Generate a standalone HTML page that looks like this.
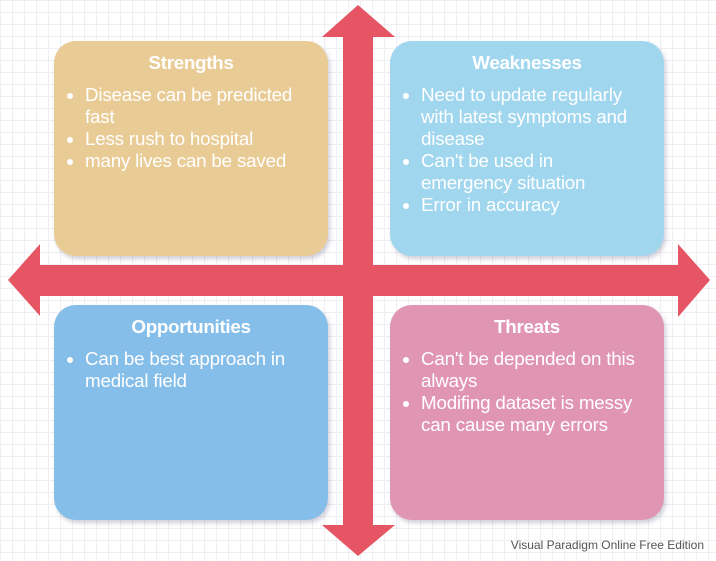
<!DOCTYPE html>
<html><head><style>
body{margin:0;width:716px;height:561px;overflow:hidden;background:#fff;
background-image:linear-gradient(#eeeef3 1px,transparent 1px),linear-gradient(90deg,#eeeef3 1px,transparent 1px);background-size:12px 12px;font-family:"Liberation Sans",sans-serif;position:relative}
.b{position:absolute;width:274px;height:215px;border-radius:22px;color:#fff;box-shadow:2px 3px 4px rgba(120,120,150,.35)}
.b h3{margin:0;text-align:center;font-size:18.8px;font-weight:bold;position:absolute;top:11px;width:100%;letter-spacing:-0.3px}
.b ul{position:absolute;top:43px;left:0;margin:0;padding-left:31px;font-size:18.8px;line-height:22px;width:218px;list-style:disc;letter-spacing:-0.2px}
.wm{position:absolute;right:12px;top:538px;font-size:12px;color:#555}
</style></head><body>
<svg width="716" height="561" style="position:absolute;left:0;top:0">
<polygon fill="#E55563" points="358,5 395,37 373,37 373,265 678,265 678,244 710,280 678,317 678,296 373,296 373,525 395,525 358,556 322,525 343,525 343,296 40,296 40,316 8,280 40,244 40,265 343,265 343,37 322,37"/>
</svg>
<div class="b" style="left:54px;top:41px;background:#E9CB95"><h3>Strengths</h3><ul><li>Disease can be predicted fast</li><li>Less rush to hospital</li><li>many lives can be saved</li></ul></div>
<div class="b" style="left:390px;top:41px;background:#A0D6EE"><h3>Weaknesses</h3><ul><li>Need to update regularly with latest symptoms and disease</li><li>Can't be used in emergency situation</li><li>Error in accuracy</li></ul></div>
<div class="b" style="left:54px;top:305px;background:#85BEE9"><h3>Opportunities</h3><ul><li>Can be best approach in medical field</li></ul></div>
<div class="b" style="left:390px;top:305px;background:#E096B3"><h3>Threats</h3><ul><li>Can't be depended on this always</li><li>Modifing dataset is messy can cause many errors</li></ul></div>
<div class="wm">Visual Paradigm Online Free Edition</div>
</body></html>
